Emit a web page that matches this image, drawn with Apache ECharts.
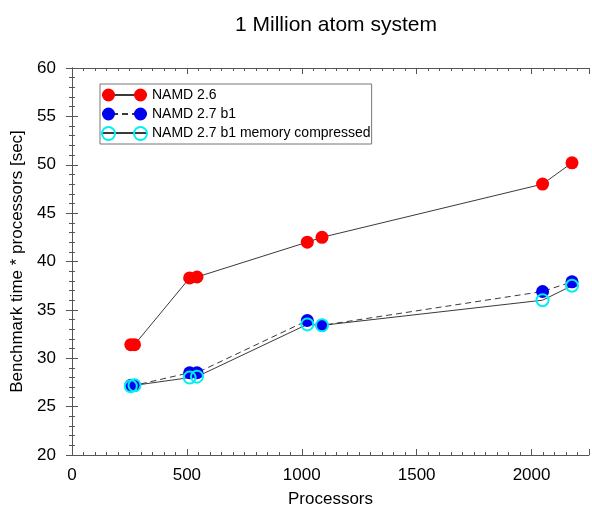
<!DOCTYPE html>
<html><head><meta charset="utf-8">
<script src="https://cdn.jsdelivr.net/npm/echarts@6/dist/echarts.min.js"></script>
<style>html,body{margin:0;padding:0;background:#fff}#c{width:592px;height:513px}</style>
</head><body><div id="c"></div>
<script>
const processors = [256, 272, 512, 544, 1024, 1088, 2048, 2176];
const namd26 = [31.4, 31.4, 38.3, 38.4, 42.0, 42.5, 48.0, 50.2];
const namd27 = [27.2, 27.2, 28.5, 28.5, 33.9, 33.4, 36.9, 37.9];
const namd27mc = [27.1, 27.2, 28.0, 28.1, 33.5, 33.4, 36.0, 37.5];
const seriesNames = ['NAMD 2.6', 'NAMD 2.7 b1', 'NAMD 2.7 b1 memory compressed'];
const xTickLabels = [0, 500, 1000, 1500, 2000];
const yTickLabels = [20, 25, 30, 35, 40, 45, 50, 55, 60];

const FONT = 'Liberation Sans, Arial, sans-serif';
const AX = '#555';
const LINE = '#3a3a3a';
const RED = '#ff0000', BLUE = '#0000f0', CYAN = '#00f0f0';

const pairs = arr => processors.map((p, i) => [p, arr[i]]);
const twoCircles = 'path://M0,6.5a6.5,6.5 0 1,0 13,0a6.5,6.5 0 1,0 -13,0Z M32,6.5a6.5,6.5 0 1,0 13,0a6.5,6.5 0 1,0 -13,0Z';

const axisCommon = {
  axisLine: { show: true, lineStyle: { color: AX, width: 1 } },
  axisTick: { show: true, inside: true, length: 6, lineStyle: { color: AX } },
  minorTick: { show: true, length: 3, lineStyle: { color: AX } },
  splitLine: { show: false },
  minorSplitLine: { show: false }
};

const legendBase = {
  orient: 'vertical',
  left: 100, top: 84,
  padding: [4, 1, 3, 1],
  itemWidth: 45, itemHeight: 13, itemGap: 5,
  textStyle: { fontFamily: FONT, fontSize: 14, color: '#000' },
  selectedMode: false
};

const option = {
  animation: false,
  backgroundColor: '#fff',
  title: {
    text: '1 Million atom system', left: 230, top: 10,
    textStyle: { fontFamily: FONT, fontSize: 21, fontWeight: 'normal', color: '#000' }
  },
  legend: [
    Object.assign({}, legendBase, {
      z: 3,
      textStyle: { fontFamily: FONT, fontSize: 14, color: 'rgba(0,0,0,0)' },
      data: seriesNames.map(n => ({ name: n, itemStyle: { color: 'rgba(0,0,0,0)', borderWidth: 0, opacity: 0 } }))
    }),
    Object.assign({}, legendBase, {
      z: 5,
      borderColor: '#777', borderWidth: 1, backgroundColor: 'rgba(255,255,255,0)',
      data: [
        { name: seriesNames[0], icon: twoCircles, itemStyle: { color: RED, borderWidth: 0 } },
        { name: seriesNames[1], icon: twoCircles, itemStyle: { color: BLUE, borderWidth: 0 } },
        { name: seriesNames[2], icon: twoCircles, itemStyle: { color: 'rgba(0,0,0,0)', borderColor: CYAN, borderWidth: 2 } }
      ]
    })
  ],
  grid: { left: 72, right: 1, top: 68, bottom: 47, containLabel: false },
  xAxis: [
    Object.assign({}, axisCommon, {
      type: 'value', min: 0, max: 2250, interval: 500,
      minorTick: Object.assign({}, axisCommon.minorTick, { splitNumber: 10 }),
      position: 'bottom',
      name: 'Processors', nameLocation: 'middle', nameGap: 36,
      nameTextStyle: { fontFamily: FONT, fontSize: 17, color: '#000' },
      axisLabel: {
        fontFamily: FONT, fontSize: 17, color: '#000', margin: 12,
        formatter: v => xTickLabels.includes(v) ? String(v) : ''
      }
    }),
    Object.assign({}, axisCommon, {
      type: 'value', min: 0, max: 2250, interval: 500,
      minorTick: Object.assign({}, axisCommon.minorTick, { splitNumber: 10 }),
      position: 'top', axisLabel: { show: false }
    })
  ],
  yAxis: [
    Object.assign({}, axisCommon, {
      type: 'value', min: 20, max: 60, interval: 5,
      minorTick: Object.assign({}, axisCommon.minorTick, { splitNumber: 5 }),
      position: 'left',
      name: 'Benchmark time * processors [sec]', nameLocation: 'middle', nameGap: 46,
      nameTextStyle: { fontFamily: FONT, fontSize: 17, color: '#000' },
      axisLabel: {
        fontFamily: FONT, fontSize: 17, color: '#000', margin: 16,
        formatter: v => yTickLabels.includes(v) ? String(v) : ''
      }
    }),
    Object.assign({}, axisCommon, {
      type: 'value', min: 20, max: 60, interval: 5,
      minorTick: Object.assign({}, axisCommon.minorTick, { splitNumber: 5 }),
      position: 'right', axisLabel: { show: false }
    })
  ],
  series: [
    {
      name: seriesNames[0], type: 'line', data: pairs(namd26),
      symbol: 'circle', symbolSize: 13,
      itemStyle: { color: RED },
      lineStyle: { color: LINE, width: 1 }
    },
    {
      name: seriesNames[1], type: 'line', data: pairs(namd27),
      symbol: 'circle', symbolSize: 13,
      itemStyle: { color: BLUE },
      lineStyle: { color: LINE, width: 1, type: [6, 4] }
    },
    {
      name: seriesNames[2], type: 'line', data: pairs(namd27mc),
      symbol: 'circle', symbolSize: 12,
      itemStyle: { color: 'rgba(0,0,0,0)', borderColor: CYAN, borderWidth: 2 },
      lineStyle: { color: LINE, width: 1 }
    }
  ]
};

const chart = echarts.init(document.getElementById('c'), null, { renderer: 'canvas' });
chart.setOption(option);
</script>
</body></html>
